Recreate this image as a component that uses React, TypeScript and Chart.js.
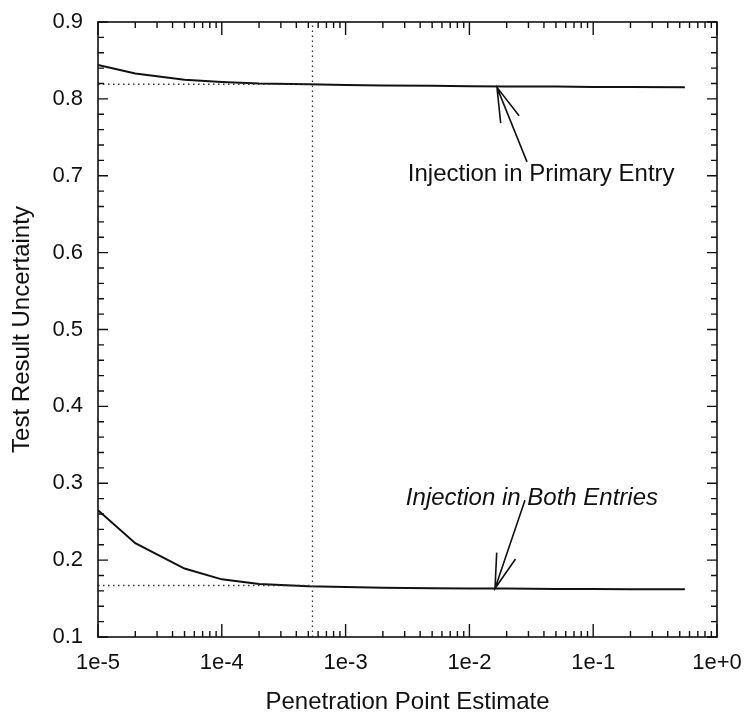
import React, { useEffect, useRef } from "react";
import { Chart, registerables } from "chart.js";

Chart.register(...registerables);

// Data
const xValues = [1e-5, 2e-5, 5e-5, 1e-4, 2e-4, 5e-4, 1e-3, 2e-3, 5e-3, 1e-2, 2e-2, 5e-2, 0.1, 0.2, 0.55];
const primaryEntry = [0.844, 0.833, 0.825, 0.822, 0.82, 0.819, 0.818, 0.8175, 0.817, 0.8165, 0.816, 0.816, 0.8155, 0.8155, 0.815];
const bothEntries = [0.265, 0.222, 0.189, 0.175, 0.169, 0.166, 0.165, 0.164, 0.1635, 0.163, 0.163, 0.1625, 0.1625, 0.162, 0.162];

const xTickValues = [1e-5, 1e-4, 1e-3, 1e-2, 1e-1, 1];
const xTickLabels = ["1e-5", "1e-4", "1e-3", "1e-2", "1e-1", "1e+0"];
const yMin = 0.1;
const yMax = 0.9;

// Reference (dotted) lines
const pointEstimate = 5.4e-4;
const refPrimary = 0.819;
const refBoth = 0.167;

// Annotation labels and arrows (data units)
const labelTexts = ["Injection in Primary Entry", "Injection in Both Entries"];
const labelX = [0.038, 0.032];
const labelY = [0.702, 0.28];
const labelItalic = [false, true];
const arrowTipX = [0.0167, 0.0161];
const arrowTipY = [0.815, 0.163];
const arrowTailX = [0.0292, 0.0281];
const arrowTailY = [0.718, 0.278];

const FONT = "'Liberation Sans', Arial, Helvetica, sans-serif";
const INK = "#111111";

const decorPlugin = {
  id: "decor",
  afterDatasetsDraw(chart: any) {
    const ctx = chart.ctx as CanvasRenderingContext2D;
    const xs = chart.scales.x;
    const ys = chart.scales.y;
    const { left, right, top, bottom } = chart.chartArea;
    ctx.save();
    // dotted reference lines
    ctx.strokeStyle = "#333";
    ctx.lineWidth = 1.3;
    ctx.setLineDash([1.5, 3.5]);
    const vx = xs.getPixelForValue(pointEstimate);
    ctx.beginPath();
    ctx.moveTo(vx, bottom);
    ctx.lineTo(vx, top);
    [refPrimary, refBoth].forEach((v) => {
      const py = ys.getPixelForValue(v);
      ctx.moveTo(left, py);
      ctx.lineTo(vx, py);
    });
    ctx.stroke();
    ctx.setLineDash([]);

    // arrows
    ctx.strokeStyle = INK;
    ctx.lineWidth = 1.6;
    for (let i = 0; i < labelTexts.length; i++) {
      const tx = xs.getPixelForValue(arrowTipX[i]);
      const ty = ys.getPixelForValue(arrowTipY[i]);
      const sx = xs.getPixelForValue(arrowTailX[i]);
      const sy = ys.getPixelForValue(arrowTailY[i]);
      const ang = Math.atan2(sy - ty, sx - tx);
      const hl = 36;
      const ha = (16 * Math.PI) / 180;
      ctx.beginPath();
      ctx.moveTo(sx, sy);
      ctx.lineTo(tx, ty);
      ctx.moveTo(tx + hl * Math.cos(ang - ha), ty + hl * Math.sin(ang - ha));
      ctx.lineTo(tx, ty);
      ctx.lineTo(tx + hl * Math.cos(ang + ha), ty + hl * Math.sin(ang + ha));
      ctx.stroke();
    }

    // labels
    ctx.fillStyle = INK;
    ctx.textAlign = "center";
    ctx.textBaseline = "middle";
    for (let i = 0; i < labelTexts.length; i++) {
      ctx.font = `${labelItalic[i] ? "italic " : ""}24px ${FONT}`;
      ctx.fillText(labelTexts[i], xs.getPixelForValue(labelX[i]), ys.getPixelForValue(labelY[i]));
    }

    // frame
    ctx.strokeStyle = INK;
    ctx.lineWidth = 1.6;
    ctx.strokeRect(left, top, right - left, bottom - top);

    // y ticks (left and right, inward)
    ctx.lineWidth = 1.4;
    ctx.beginPath();
    const nY = Math.round((yMax - yMin) / 0.02);
    for (let i = 0; i <= nY; i++) {
      const py = ys.getPixelForValue(yMin + i * 0.02);
      const len = i % 5 === 0 ? 10 : 6;
      ctx.moveTo(left, py);
      ctx.lineTo(left + len, py);
      ctx.moveTo(right, py);
      ctx.lineTo(right - len, py);
    }
    // x ticks (bottom and top, inward)
    for (let d = 0; d < xTickValues.length; d++) {
      const base = xTickValues[d];
      const mults = d === xTickValues.length - 1 ? [1] : [1, 2, 3, 4, 5, 6, 7, 8, 9];
      mults.forEach((m) => {
        const px = xs.getPixelForValue(base * m);
        const len = m === 1 ? 13 : 6;
        ctx.moveTo(px, bottom);
        ctx.lineTo(px, bottom - len);
        ctx.moveTo(px, top);
        ctx.lineTo(px, top + len);
      });
    }
    ctx.stroke();
    ctx.restore();
  },
};

export default function App() {
  const canvasRef = useRef<HTMLCanvasElement | null>(null);

  useEffect(() => {
    if (!canvasRef.current) return;
    const chart = new Chart(canvasRef.current, {
      type: "line",
      data: {
        datasets: [
          {
            label: "Injection in Primary Entry",
            data: xValues.map((x, i) => ({ x, y: primaryEntry[i] })),
            borderColor: INK,
            borderWidth: 2,
            pointRadius: 0,
            tension: 0,
            fill: false,
          },
          {
            label: "Injection in Both Entries",
            data: xValues.map((x, i) => ({ x, y: bothEntries[i] })),
            borderColor: INK,
            borderWidth: 2,
            pointRadius: 0,
            tension: 0,
            fill: false,
          },
        ],
      },
      options: {
        animation: false,
        responsive: false,
        maintainAspectRatio: false,
        layout: { padding: { left: 0, top: 22, right: 31, bottom: 0 } },
        plugins: {
          legend: { display: false },
          tooltip: { enabled: false },
        },
        scales: {
          x: {
            type: "logarithmic",
            min: 1e-5,
            max: 1,
            grid: { display: false, drawTicks: false },
            border: { display: false },
            afterBuildTicks: (scale: any) => {
              scale.ticks = xTickValues.map((v) => ({ value: v, major: true }));
            },
            afterFit: (scale: any) => {
              scale.height = 80;
              scale.paddingLeft = 0;
              scale.paddingRight = 0;
            },
            ticks: {
              autoSkip: false,
              maxRotation: 0,
              padding: 13,
              color: INK,
              font: { family: FONT, size: 22 },
              callback: (_v: any, i: number) => xTickLabels[i],
            },
            title: {
              display: true,
              text: "Penetration Point Estimate",
              color: INK,
              font: { family: FONT, size: 24 },
              padding: { top: 0, bottom: 0 },
            },
          },
          y: {
            type: "linear",
            min: yMin,
            max: yMax,
            grid: { display: false, drawTicks: false },
            border: { display: false },
            afterFit: (scale: any) => {
              scale.width = 98;
              scale.paddingTop = 0;
              scale.paddingBottom = 0;
            },
            ticks: {
              stepSize: 0.1,
              padding: 15,
              color: INK,
              font: { family: FONT, size: 22 },
              callback: (v: any) => Number(v).toFixed(1),
            },
            title: {
              display: true,
              text: "Test Result Uncertainty",
              color: INK,
              font: { family: FONT, size: 24 },
              padding: { top: 8, bottom: 0 },
            },
          },
        },
      },
      plugins: [decorPlugin],
    } as any);
    return () => chart.destroy();
  }, []);

  return (
    <div style={{ position: "absolute", left: 0, top: 0, width: 748, height: 717, background: "#fff" }}>
      <canvas ref={canvasRef} width={748} height={717} style={{ width: 748, height: 717, display: "block" }} />
    </div>
  );
}
